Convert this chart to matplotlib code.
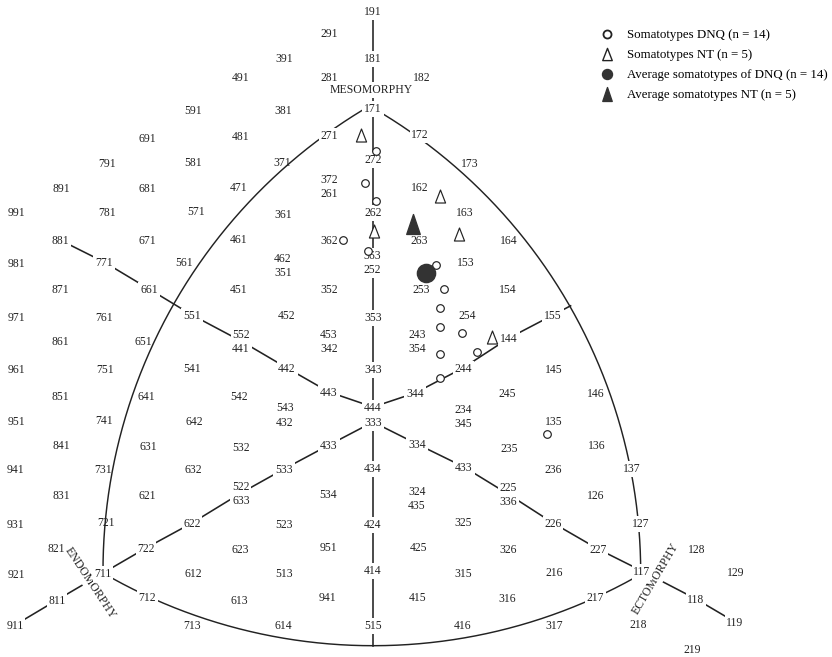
import numpy as np
import matplotlib
matplotlib.use("Agg")
import matplotlib.pyplot as plt
from matplotlib.lines import Line2D
from matplotlib.path import Path

INK = "#222222"
SERIF = "Liberation Serif"

# somatotype grid labels (code, x, y), in image pixels
labels_upper = [
    ("191", 373, 11), ("291", 329, 33), ("181", 373, 58), ("391", 284, 58),
    ("491", 241, 77), ("281", 329, 77), ("182", 422, 77),
    ("171", 373, 108), ("591", 193, 110), ("381", 283, 110),
    ("691", 147, 138), ("481", 241, 136), ("271", 329, 135), ("172", 420, 134),
    ("791", 107, 163), ("581", 193, 162), ("371", 282, 162), ("272", 373, 159), ("173", 470, 163),
    ("372", 329, 179),
    ("891", 61, 188), ("681", 147, 188), ("471", 239, 187), ("261", 329, 193), ("162", 420, 187),
    ("991", 16, 212), ("781", 107, 212), ("571", 196, 211), ("361", 283, 214), ("262", 373, 212),
    ("163", 465, 212),
    ("881", 60, 240), ("671", 147, 240), ("461", 239, 239), ("362", 329, 240), ("263", 419, 240),
    ("164", 509, 240),
    ("981", 16, 263), ("771", 104, 262), ("561", 184, 262), ("462", 283, 258), ("351", 283, 272),
    ("363", 372, 255), ("252", 372, 269), ("153", 466, 262),
]
labels_middle = [
    ("871", 60, 289), ("661", 149, 289), ("451", 239, 289), ("352", 329, 289), ("253", 421, 289),
    ("154", 508, 289),
    ("971", 16, 317), ("761", 104, 317), ("551", 192, 315), ("452", 286, 315), ("353", 373, 317),
    ("254", 467, 315), ("155", 553, 315),
    ("861", 60, 341), ("651", 143, 341), ("552", 241, 334), ("441", 241, 348), ("453", 329, 334),
    ("342", 329, 348), ("243", 417, 334), ("354", 417, 348), ("144", 509, 338),
    ("961", 16, 369), ("751", 105, 369), ("541", 192, 368), ("442", 287, 368), ("343", 373, 369),
    ("244", 463, 368), ("145", 554, 369),
    ("851", 60, 396), ("641", 146, 396), ("542", 239, 396), ("443", 329, 392), ("344", 415, 393),
    ("245", 507, 393), ("146", 596, 393),
    ("543", 285, 407), ("444", 373, 407), ("234", 463, 409),
    ("951", 16, 421), ("741", 104, 420), ("642", 194, 421), ("432", 285, 422), ("333", 373, 422),
    ("345", 463, 423), ("135", 554, 421),
]
labels_lower = [
    ("841", 61, 445), ("631", 148, 446), ("532", 241, 447), ("433", 329, 445), ("334", 417, 444),
    ("235", 509, 448), ("136", 597, 445),
    ("941", 15, 469), ("731", 103, 469), ("632", 193, 469), ("533", 284, 469), ("434", 373, 468),
    ("433", 464, 467), ("236", 553, 469), ("137", 632, 468),
    ("522", 241, 486), ("225", 508, 487),
    ("831", 61, 495), ("621", 147, 495), ("534", 328, 494), ("324", 417, 491), ("126", 596, 495),
    ("633", 241, 500), ("336", 508, 501), ("435", 417, 505),
    ("931", 15, 524), ("721", 106, 522), ("622", 192, 523), ("523", 284, 524), ("424", 373, 524),
    ("325", 463, 522), ("226", 553, 523), ("127", 641, 523),
    ("821", 56, 548), ("722", 146, 548), ("623", 240, 549), ("951", 328, 547), ("425", 418, 547),
    ("326", 508, 549), ("227", 598, 549), ("128", 697, 549),
    ("921", 16, 574), ("711", 103, 573), ("612", 193, 573), ("513", 284, 573), ("414", 373, 570),
    ("315", 463, 573), ("216", 554, 572), ("117", 642, 571), ("129", 736, 572),
    ("811", 57, 600), ("712", 147, 597), ("613", 239, 600), ("941", 327, 597), ("415", 418, 597),
    ("316", 507, 598), ("217", 595, 597), ("118", 696, 599),
    ("911", 15, 625), ("713", 192, 625), ("614", 283, 625), ("515", 373, 625), ("416", 463, 625),
    ("317", 554, 625), ("218", 638, 624), ("119", 735, 622),
    ("219", 692, 649),
]

# labels that sit on an axis line or on the outline (line is broken around them)
on_lines = {"191", "181", "171", "272", "262", "363", "252", "353", "343", "444", "333",
            "434", "424", "414", "515", "881", "771", "661", "551", "552", "441", "442",
            "443", "344", "244", "144", "155", "433", "533", "522", "633", "622", "722",
            "711", "811", "911", "334", "225", "336", "226", "227", "117", "118", "119",
            "271", "172", "137", "127", "712", "217"}

# individual somatotypes
dnq_x = [376, 365, 376, 343, 368, 436, 444, 440, 440, 462, 440, 477, 440, 547]
dnq_y = [151, 183, 201, 240, 251, 265, 289, 308, 327, 333, 354, 352, 378, 434]
nt_x = [361, 440, 374, 459, 492]
nt_y = [135, 196, 231, 234, 337]
# means
dnq_mean = (426, 273)
nt_mean = (413, 224)

legend_labels = ["Somatotypes DNQ (n = 14)", "Somatotypes NT (n = 5)",
                 "Average somatotypes of DNQ (n = 14)", "Average somatotypes NT (n = 5)"]

all_labels = labels_upper + labels_middle + labels_lower
pos = {}
for code, x, y in all_labels:
    key = code
    while key in pos:
        key += "'"
    pos[key] = np.array([x, y], dtype=float)


def mid(a, b):
    return (pos[a] + pos[b]) / 2


def arc(center, p0, p1, n=300):
    c = np.asarray(center)
    r = np.hypot(*(p0 - c))
    a0 = np.arctan2(p0[1] - c[1], p0[0] - c[0])
    a1 = np.arctan2(p1[1] - c[1], p1[0] - c[0])
    if a1 - a0 > np.pi:
        a1 -= 2 * np.pi
    elif a1 - a0 < -np.pi:
        a1 += 2 * np.pi
    t = np.linspace(a0, a1, n)
    return c[0] + r * np.cos(t), c[1] + r * np.sin(t)


def triangle(half_width):
    return Path([(-half_width, -0.5), (half_width, -0.5), (0, 0.5), (-half_width, -0.5)],
                [Path.MOVETO, Path.LINETO, Path.LINETO, Path.CLOSEPOLY])


fig = plt.figure(figsize=(8.32, 6.57), dpi=100)
ax = fig.add_axes([0, 0, 1, 1])
ax.set_xlim(0, 832)
ax.set_ylim(657, 0)
ax.axis("off")

top, left, right = pos["171"], pos["711"], pos["117"]

# outline (Reuleaux triangle)
for c, p0, p1 in [(right, left, top), (left, top, right), (top, left, right)]:
    xs, ys = arc(c, p0, p1)
    ax.plot(xs, ys, color=INK, lw=1.05, zorder=3)

# axis lines
r_bottom = np.hypot(*(left - top))
x0 = pos["191"][0]
bottom = np.array([x0, top[1] + np.sqrt(r_bottom**2 - (x0 - top[0])**2)])
p144, p155 = pos["144"], pos["155"]
axes_lines = [
    [pos["191"], bottom],
    [pos[k] for k in ["881", "771", "661", "551"]] + [mid("552", "441")]
    + [pos[k] for k in ["442", "443", "444"]],
    [pos[k] for k in ["444", "344", "244", "144", "155"]] + [p155 + 0.4 * (p155 - p144)],
    [pos[k] for k in ["333", "433", "533"]] + [mid("522", "633")]
    + [pos[k] for k in ["622", "722", "711", "811", "911"]],
    [pos[k] for k in ["333", "334", "433'"]] + [mid("225", "336")]
    + [pos[k] for k in ["226", "227", "117", "118", "119"]],
]
for pts in axes_lines:
    pts = np.array(pts)
    ax.plot(pts[:, 0], pts[:, 1], color=INK, lw=1.15, zorder=1)

gap = dict(boxstyle="square,pad=0.15", fc="white", ec="none")

ax.text(371, 89 + 4, "MESOMORPHY", ha="center", va="baseline", fontsize=8.5, family=SERIF,
        color=INK, zorder=4, bbox=gap)
ax.text(90.5, 583, "ENDOMORPHY", ha="center", va="center", rotation=-56.5,
        rotation_mode="anchor", fontsize=8.5, family=SERIF, color=INK, zorder=4, bbox=gap)
ax.text(655.5, 579, "ECTOMORPHY", ha="center", va="center", rotation=59.5,
        rotation_mode="anchor", fontsize=8.5, family=SERIF, color=INK, zorder=4, bbox=gap)

for code, x, y in all_labels:
    if code in on_lines:
        ax.text(x, y + 4, code, ha="center", va="baseline", fontsize=8.4, family=SERIF,
                color=INK, zorder=4, bbox=gap)
    else:
        ax.text(x, y + 4, code, ha="center", va="baseline", fontsize=8.4, family=SERIF,
                color=INK, zorder=7)

ax.scatter(dnq_x, dnq_y, s=30, marker="o", facecolor="white", edgecolor=INK, lw=0.85, zorder=5)
ax.scatter(nt_x, nt_y, s=88, marker=triangle(0.39), facecolor="white", edgecolor=INK,
           lw=0.85, zorder=5)
ax.scatter([dnq_mean[0]], [dnq_mean[1]], s=172, marker="o", color="#333333", zorder=6)
ax.scatter([nt_mean[0]], [nt_mean[1]], s=205, marker=triangle(0.34), color="#333333", zorder=6)

handles = [
    Line2D([], [], ls="none", marker="o", ms=5.8, mfc="white", mec=INK, mew=1.3),
    Line2D([], [], ls="none", marker=triangle(0.39), ms=8.8, mfc="white", mec=INK, mew=1.0),
    Line2D([], [], ls="none", marker="o", ms=7.2, mfc="#333333", mec="#333333"),
    Line2D([], [], ls="none", marker=triangle(0.34), ms=10, mfc="#333333", mec="#333333"),
]
ax.legend(handles, legend_labels, loc="upper left", bbox_to_anchor=(600.5, 29),
          bbox_transform=ax.transData, frameon=False,
          prop={"family": SERIF, "size": 9.3}, handlelength=1.0, handletextpad=1.05,
          labelspacing=0.62, borderpad=0, borderaxespad=0)

fig.savefig("out.png", dpi=100, facecolor="white")
